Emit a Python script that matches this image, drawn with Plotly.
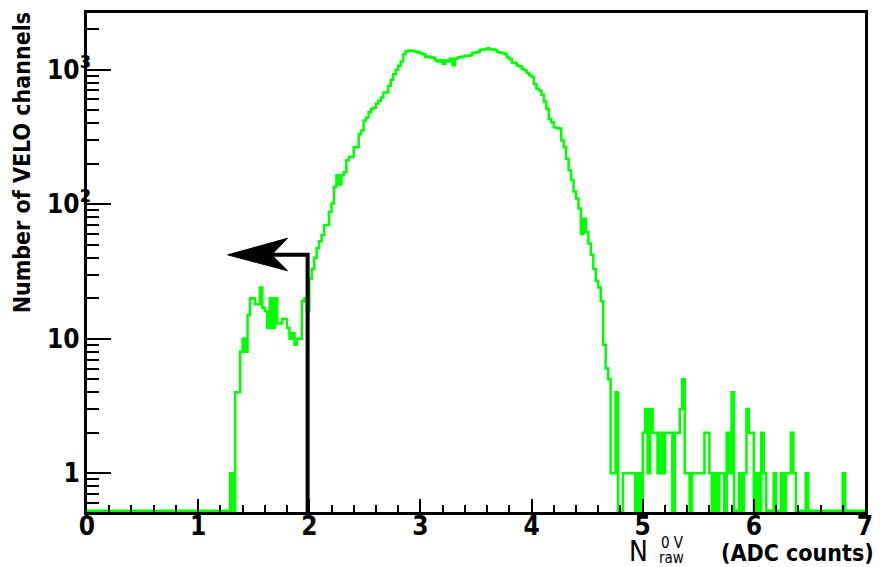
import math
import plotly.graph_objects as go

# ---------------- data ----------------
X_LO, X_HI, N_BINS = 0.0, 7.0, 315          # histogram binning (ADC counts)
FIRST_FILLED_BIN = 58                         # bins below this are empty

counts_bump = [1, 0, 4, 4, 8, 10, 8, 15, 20, 20,
               18, 18, 24, 17, 16, 12, 20, 12, 20, 13,
               13, 14, 14, 12, 10, 11, 9, 10, 10, 19,
               20, 16, 28, 33, 40, 47, 53, 59, 70]
counts_rise = [70, 88, 101, 135, 164, 140, 164, 173, 212, 224,
               224, 265, 265, 333, 353, 419, 440, 482, 510, 520,
               560, 588, 620, 677, 677, 760, 840, 925, 1000, 1067,
               1150, 1300]
counts_peak = [1370, 1390, 1380, 1376, 1360, 1340, 1320, 1300, 1240, 1250,
               1230, 1220, 1170, 1150, 1180, 1100, 1170, 1150, 1210, 1080,
               1200, 1230, 1240, 1250, 1270, 1264, 1280, 1338, 1340, 1350,
               1400, 1410, 1420, 1440, 1420, 1410, 1400, 1350, 1340, 1330,
               1300, 1230, 1200, 1130, 1120, 1070, 1060, 1010, 990, 950,
               910, 880, 780, 720, 700, 650, 580, 510, 430, 406,
               373, 368, 365, 298, 265, 218, 179, 151, 124, 110,
               93, 60, 78, 62, 51, 42, 33, 27, 24, 19,
               9, 6, 5]
counts_tail = [1, 1, 4, 0, 0, 1, 1, 1, 1, 1,
               0, 1, 0, 2, 3, 1, 3, 2, 2, 1,
               2, 1, 2, 2, 2, 0, 2, 2, 3, 5,
               1, 1, 0, 1, 1, 1, 1, 1, 2, 2,
               1, 0, 1, 0, 1, 1, 0, 2, 1, 4,
               0, 0, 1, 0, 1, 3, 2, 2, 0, 1,
               0, 2, 1, 0, 0, 0, 1, 0, 0, 1,
               0, 1, 1, 2, 1, 0, 0, 0, 0, 1,
               0, 0, 0, 0, 0, 0, 0, 0, 0, 0,
               0, 0, 0, 0, 1, 0, 0, 0, 0, 0,
               0, 0, 0]

x_tick_vals = [0, 1, 2, 3, 4, 5, 6, 7]
y_tick_vals = [1, 10, 100, 1000]
FS = "\u2007"  # figure space keeps the mantissas aligned like the powers
y_tick_text = ["1<sup>" + FS + "</sup>", "10<sup>" + FS + "</sup>",
               "10<sup>2</sup>", "10<sup>3</sup>"]

CUT_X = 1.985        # selection cut (arrow)
ARROW_Y = 42
ARROW_TIP_X = 1.266
ARROW_BACK_X = 1.804
ARROW_NOTCH_X = 1.66
ARROW_UP_Y, ARROW_LO_Y = 55.8, 32.0

# ---------------- build ----------------
counts = [0] * FIRST_FILLED_BIN + counts_bump + counts_rise + counts_peak + counts_tail
counts = counts[:N_BINS] + [0] * (N_BINS - len(counts))
bw = (X_HI - X_LO) / N_BINS
edges = [X_LO + i * bw for i in range(N_BINS + 1)]

Y_LO_LOG, Y_HI_LOG = -0.288, 3.421
floor_val = 10 ** (Y_LO_LOG + 0.010)
disp = [c if c > 0 else floor_val for c in counts]
xs = edges
ys = disp + [disp[-1]]

GREEN = "#00ff00"
FONT = "DejaVu Sans Condensed, DejaVu Sans, sans-serif"

fig = go.Figure()
fig.add_trace(go.Scatter(x=xs, y=ys, mode="lines",
                         line=dict(color=GREEN, width=2.5, shape="hv"),
                         hoverinfo="skip", showlegend=False))

# cut line + arrow
fig.add_trace(go.Scatter(x=[CUT_X, CUT_X, ARROW_NOTCH_X], y=[0.3, ARROW_Y, ARROW_Y],
                         mode="lines", line=dict(color="black", width=4),
                         hoverinfo="skip", showlegend=False))
fig.add_trace(go.Scatter(x=[ARROW_TIP_X, ARROW_BACK_X, ARROW_NOTCH_X, ARROW_BACK_X, ARROW_TIP_X],
                         y=[ARROW_Y, ARROW_UP_Y, ARROW_Y, ARROW_LO_Y, ARROW_Y],
                         mode="lines", fill="toself", fillcolor="black",
                         line=dict(color="black", width=1),
                         hoverinfo="skip", showlegend=False))

minor_x = [round(i * 0.2, 1) for i in range(36) if (i % 5) != 0]
minor_y = [m * 10 ** d for d in range(0, 4) for m in range(2, 10)] + [0.6, 0.7, 0.8, 0.9]

TICKFONT = dict(family=FONT, size=26, color="black", weight="bold")

fig.update_xaxes(range=[X_LO, X_HI], tickvals=x_tick_vals, ticks="inside", ticklen=13,
                 tickwidth=2, tickcolor="black", showline=True, linewidth=2.5,
                 linecolor="black", mirror=True, showgrid=False, zeroline=False,
                 tickfont=TICKFONT, ticklabelstandoff=-11,
                 minor=dict(tickvals=minor_x, ticks="inside", ticklen=7, tickwidth=1.5,
                            tickcolor="black", showgrid=False))
fig.update_yaxes(type="log", range=[Y_LO_LOG, Y_HI_LOG], tickvals=y_tick_vals,
                 ticktext=y_tick_text, ticks="inside", ticklen=24, tickwidth=2,
                 tickcolor="black", showline=True, linewidth=2.5, linecolor="black",
                 mirror=True, showgrid=False, zeroline=False,
                 tickfont=TICKFONT, ticklabelstandoff=-12,
                 minor=dict(tickvals=minor_y, ticks="inside", ticklen=12, tickwidth=1.5,
                            tickcolor="black", showgrid=False))

L, R, T, B = 87, 15, 10, 55
W, H = 883, 567
pw, ph = W - L - R, H - T - B


def px(xp):
    return (xp - L) / pw


def py(yp):
    return (H - B - yp) / ph


annos = [
    dict(text="Number of VELO channels", x=px(22), y=py(161), textangle=-90,
         font=dict(family=FONT, size=23, color="black", weight="bold")),
    dict(text="N", x=px(641), y=py(552), font=dict(family=FONT, size=28, color="black")),
    dict(text="0 V", x=px(675), y=py(543), font=dict(family=FONT, size=15, color="black")),
    dict(text="raw", x=px(674), y=py(558), font=dict(family=FONT, size=15, color="black")),
    dict(text="(ADC counts)", x=px(800), y=py(553),
         font=dict(family=FONT, size=23, color="black", weight="bold")),
]
for a in annos:
    a.update(xref="paper", yref="paper", showarrow=False, xanchor="center", yanchor="middle")

fig.update_layout(width=W, height=H, margin=dict(l=L, r=R, t=T, b=B),
                  paper_bgcolor="white", plot_bgcolor="white", annotations=annos,
                  showlegend=False)

fig.write_html("out.html")
